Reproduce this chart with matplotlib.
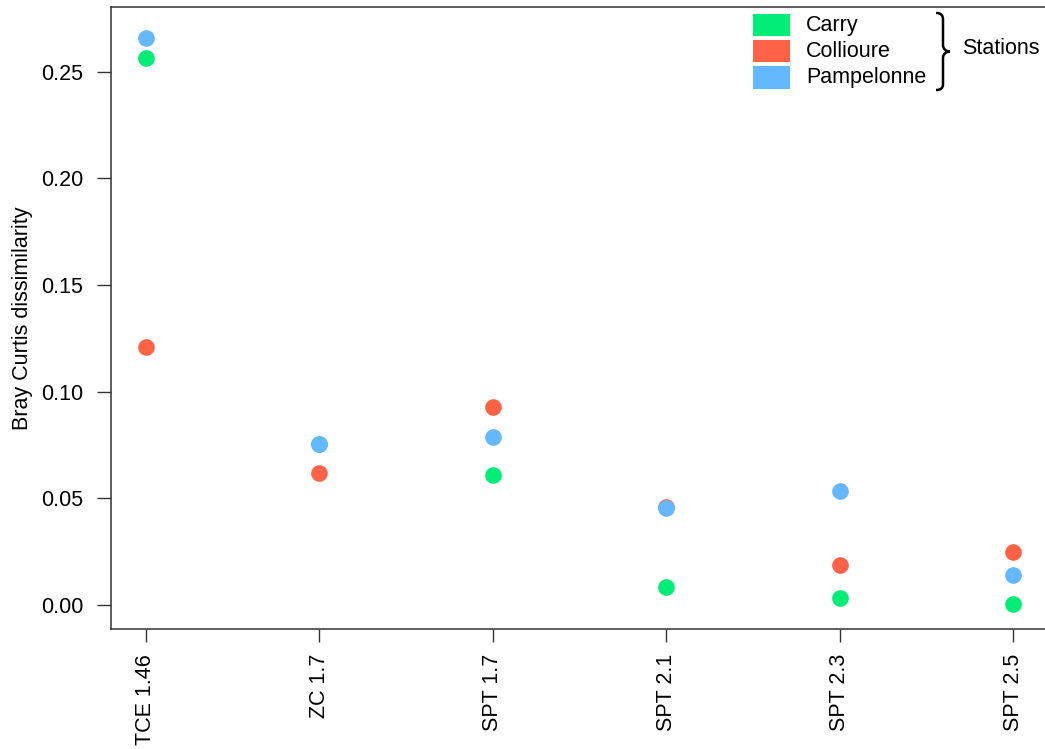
import matplotlib
matplotlib.use("Agg")
from matplotlib import pyplot as plt
from matplotlib.path import Path
from matplotlib.patches import PathPatch, Rectangle
from matplotlib.transforms import Affine2D

sites = ["TCE 1.46", "ZC 1.7", "SPT 1.7", "SPT 2.1", "SPT 2.3", "SPT 2.5"]
stations = ["Carry", "Collioure", "Pampelonne"]
colors = ["#00EE76", "#FF6347", "#63B8FF"]

carry = [0.2563, 0.0753, 0.0611, 0.0086, 0.0033, 0.0005]
collioure = [0.1210, 0.0617, 0.0927, 0.0460, 0.0188, 0.0250]
pampelonne = [0.2660, 0.0756, 0.0786, 0.0453, 0.0534, 0.0141]
series = [carry, collioure, pampelonne]

W, H = 1045, 749
plt.rcParams["font.family"] = ["Liberation Sans", "DejaVu Sans"]
plt.rcParams["font.size"] = 15.5

fig = plt.figure(figsize=(W / 100, H / 100), dpi=100)
# right edge of the box runs off the picture, as in the original
ax_w = W - 111 + 10
ax = fig.add_axes([111 / W, 1 - 629 / H, ax_w / W, (629 - 7) / H])

x = list(range(1, len(sites) + 1))
for vals, col in zip(series, colors):
    ax.plot(x, vals, linestyle="none", marker="o", markersize=12,
            markerfacecolor=col, markeredgewidth=0)

unit_px = 173.5
ax.set_xlim(0.80, 0.80 + ax_w / unit_px)
ax.set_ylim(-0.01125, 0.2803)
ax.set_xticks(x)
ax.set_xticklabels(sites, rotation=90)
ax.set_yticks([0.0, 0.05, 0.10, 0.15, 0.20, 0.25])
ax.set_yticklabels(["0.00", "0.05", "0.10", "0.15", "0.20", "0.25"])
ax.tick_params(axis="y", direction="out", length=10, width=1, pad=10, color="#333333")
ax.tick_params(axis="x", direction="out", length=9, width=1, pad=9, color="#333333")
for side in ["left", "bottom", "top"]:
    ax.spines[side].set_linewidth(1.1)
    ax.spines[side].set_color("#333333")
ax.spines["right"].set_visible(False)

ax.set_ylabel("Bray Curtis dissimilarity")
ax.yaxis.set_label_coords((33 - 111) / ax_w, 0.5)

# legend drawn in pixel coordinates of the figure
px = Affine2D().scale(1 / W, -1 / H).translate(0, 1) + fig.transFigure
for i, (name, col) in enumerate(zip(stations, colors)):
    top = 13.5 + i * 26.3
    fig.patches.append(Rectangle((753, top + 22.5), 37, -22.5, transform=px,
                                 facecolor=col, edgecolor="none"))
    fig.text(806, top + 11.5, name, transform=px, ha="left", va="center")

verts = [(936, 13), (941, 13), (943, 15), (943, 20),
         (943, 45),
         (943, 49), (946, 51.5), (950, 51.5),
         (946, 51.5), (943, 54), (943, 58),
         (943, 84),
         (943, 88), (941, 90), (936, 90)]
codes = [Path.MOVETO, Path.CURVE4, Path.CURVE4, Path.CURVE4,
         Path.LINETO,
         Path.CURVE4, Path.CURVE4, Path.CURVE4,
         Path.CURVE4, Path.CURVE4, Path.CURVE4,
         Path.LINETO,
         Path.CURVE4, Path.CURVE4, Path.CURVE4]
fig.patches.append(PathPatch(Path(verts, codes), transform=px, facecolor="none",
                             edgecolor="black", linewidth=1.8))
fig.text(962, 49, "Stations", transform=px, ha="left", va="center")

fig.savefig("out.png", dpi=100)
